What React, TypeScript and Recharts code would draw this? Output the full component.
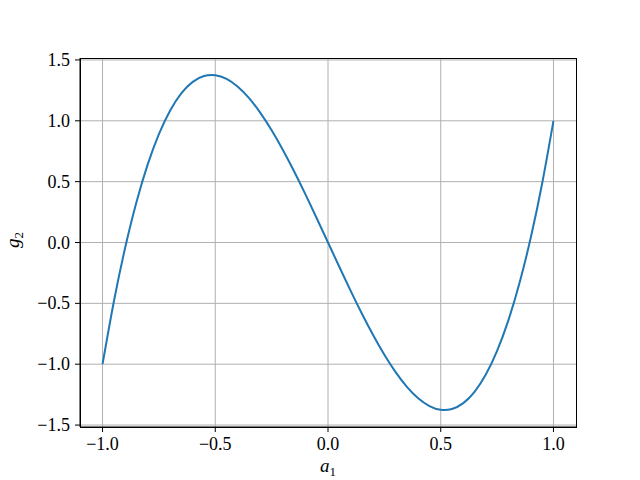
import React from 'react';
import { LineChart, Line, XAxis, YAxis, CartesianGrid } from 'recharts';

const a1Values = [
  -1.0, -0.95, -0.9, -0.85, -0.8, -0.75, -0.7, -0.65, -0.6, -0.55, -0.5,
  -0.45, -0.4, -0.35, -0.3, -0.25, -0.2, -0.15, -0.1, -0.05, 0.0,
  0.05, 0.1, 0.15, 0.2, 0.25, 0.3, 0.35, 0.4, 0.45, 0.5,
  0.55, 0.6, 0.65, 0.7, 0.75, 0.8, 0.85, 0.9, 0.95, 1.0,
];

const g2Values = [
  -1.0, -0.487, -0.045, 0.329, 0.64, 0.891, 1.085, 1.227, 1.32, 1.368, 1.375,
  1.344, 1.28, 1.186, 1.065, 0.922, 0.76, 0.583, 0.395, 0.199, 0.0,
  -0.199, -0.395, -0.583, -0.76, -0.922, -1.065, -1.186, -1.28, -1.344, -1.375,
  -1.368, -1.32, -1.227, -1.085, -0.891, -0.64, -0.329, 0.045, 0.487, 1.0,
];

const xTicks = [-1.0, -0.5, 0.0, 0.5, 1.0];
const yTicks = [-1.5, -1.0, -0.5, 0.0, 0.5, 1.0, 1.5];

const data = a1Values.map((a, i) => ({ a, g: g2Values[i] }));

const FONT = '"Liberation Serif", "DejaVu Serif", serif';

// matplotlib style: one decimal and a real minus sign
const fmt = (v: number) => {
  const s = Math.abs(v).toFixed(1);
  return v < 0 ? '\u2212' + s : s;
};

const XTick = ({ x, y, payload }: any) => (
  <text x={x} y={y + 14} textAnchor="middle" fontFamily={FONT} fontSize={18} fill="#000">
    {fmt(payload.value)}
  </text>
);

const YTick = ({ x, y, payload }: any) => (
  <text x={x} y={y + 6} textAnchor="end" fontFamily={FONT} fontSize={18} fill="#000">
    {fmt(payload.value)}
  </text>
);

export default function App() {
  return (
    <div style={{ position: 'absolute', left: 0, top: 0, width: 640, height: 480, background: '#fff' }}>
      <LineChart
        width={640}
        height={480}
        data={data}
        margin={{ top: 58, right: 64, left: 10, bottom: 13 }}
      >
        <CartesianGrid
          stroke="#b0b0b0"
          strokeWidth={1}
          horizontalValues={yTicks}
          verticalValues={xTicks}
        />
        <XAxis
          dataKey="a"
          type="number"
          domain={[-1.1, 1.1]}
          ticks={xTicks}
          allowDataOverflow
          tickSize={5}
          tickMargin={4}
          height={40}
          tick={<XTick />}
          tickLine={{ stroke: '#000' }}
          axisLine={{ stroke: '#000' }}
        />
        <YAxis
          type="number"
          domain={[-1.516, 1.516]}
          ticks={yTicks}
          allowDataOverflow
          tickSize={5}
          tickMargin={5}
          width={70}
          tick={<YTick />}
          tickLine={{ stroke: '#000' }}
          axisLine={{ stroke: '#000' }}
        />
        <Line
          type="natural"
          dataKey="g"
          stroke="#1f77b4"
          strokeWidth={2}
          dot={false}
          isAnimationActive={false}
        />
      </LineChart>
      <svg
        width={640}
        height={480}
        style={{ position: 'absolute', left: 0, top: 0, pointerEvents: 'none' }}
      >
        {/* axes frame */}
        <rect x={80.5} y={58.5} width={496} height={369} fill="none" stroke="#000" strokeWidth={1} />
        <text x={328} y={472} textAnchor="middle" fontFamily={FONT} fontSize={19} fontStyle="italic">
          a<tspan fontSize={13} dy={4} fontStyle="normal">1</tspan>
        </text>
        <text
          x={0}
          y={0}
          transform="translate(19 240) rotate(-90)"
          textAnchor="middle"
          fontFamily={FONT}
          fontSize={19}
          fontStyle="italic"
        >
          g<tspan fontSize={13} dy={4} fontStyle="normal">2</tspan>
        </text>
      </svg>
    </div>
  );
}
